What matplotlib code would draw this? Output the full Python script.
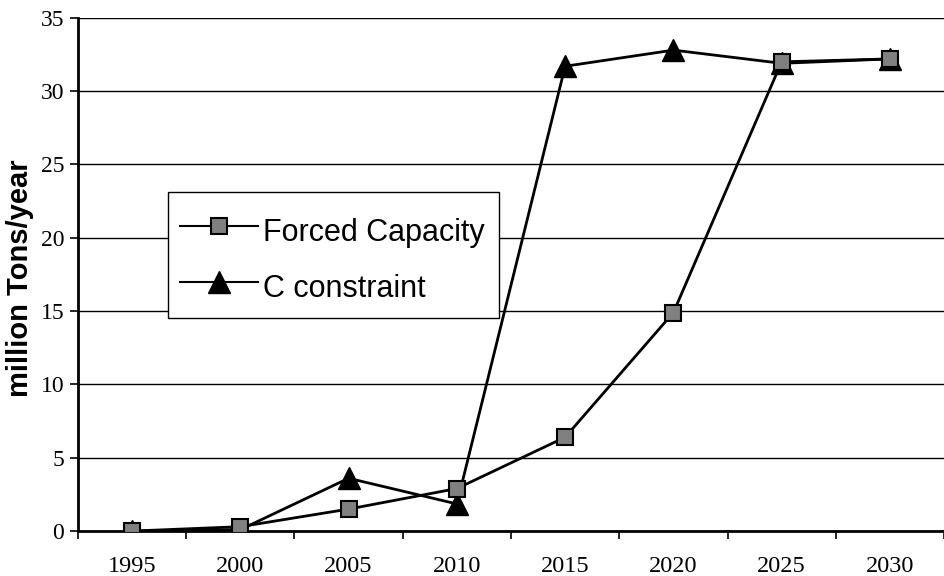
import matplotlib
matplotlib.use("Agg")
import matplotlib.pyplot as plt
from matplotlib.lines import Line2D
from matplotlib.patches import Rectangle

years = ["1995", "2000", "2005", "2010", "2015", "2020", "2025", "2030"]
forced_capacity = [0.0, 0.3, 1.5, 2.9, 6.4, 14.9, 32.0, 32.2]
c_constraint = [0.0, 0.1, 3.6, 1.85, 31.7, 32.8, 31.9, 32.2]
y_ticks = [0, 5, 10, 15, 20, 25, 30, 35]

fig = plt.figure(figsize=(9.45, 5.76), dpi=100)
ax = fig.add_axes([0.0825, 0.078, 0.9165, 0.891])

x = list(range(len(years)))
ax.plot(x, c_constraint, color="black", lw=2, marker="^", ms=16,
        mfc="black", mec="black", zorder=3, label="C constraint")
ax.plot(x, forced_capacity, color="black", lw=2, marker="s", ms=12,
        mfc="#808080", mec="black", mew=1.5, zorder=4, label="Forced Capacity")

ax.set_xlim(-0.5, len(years) - 0.5)
ax.set_ylim(0, 35)
ax.set_yticks(y_ticks)
ax.set_xticks(x)
ax.set_xticklabels(years)
ax.set_xticks([i - 0.5 for i in range(len(years) + 1)], minor=True)
ax.tick_params(axis="x", which="major", length=0, pad=18)
ax.tick_params(axis="x", which="minor", length=6, width=1.2, direction="out")
ax.tick_params(axis="y", length=6, width=1.2, direction="out", pad=4)
for lab in ax.get_xticklabels():
    lab.set_fontfamily("Liberation Serif")
    lab.set_fontsize(17.5)
for lab in ax.get_yticklabels():
    lab.set_fontfamily("Liberation Serif")
    lab.set_fontsize(17)

ax.grid(axis="y", color="black", lw=1.0)
ax.set_axisbelow(True)
for s in ["top", "right"]:
    ax.spines[s].set_visible(False)
ax.spines["left"].set_linewidth(2)
ax.spines["bottom"].set_linewidth(2)

ax.set_ylabel("million Tons/year", fontfamily="Liberation Sans", fontweight="bold",
              fontsize=21)
ax.yaxis.set_label_coords(-0.0505, 0.493)

# legend frame
frame = Rectangle((0.1038, 0.4152), 0.4867 - 0.1038, 0.6608 - 0.4152,
                  transform=ax.transAxes, facecolor="white", edgecolor="black",
                  lw=1.0, zorder=5)
ax.add_patch(frame)

handles = [Line2D([], [], color="black", lw=1.5, marker="s", ms=12, mfc="#808080",
                  mec="black", mew=1.5),
           Line2D([], [], color="black", lw=1.5, marker="^", ms=16, mfc="black", mec="black")]
leg = ax.legend(handles, ["Forced Capacity", "C constraint"],
                loc="upper left", bbox_to_anchor=(0.104, 0.647), borderaxespad=0,
                prop={"family": ["Liberation Sans Narrow", "Liberation Sans"], "size": 22},
                frameon=False,
                handlelength=2.55, handletextpad=0.15, borderpad=0.4,
                handleheight=1.57, labelspacing=0.57)
leg.set_zorder(6)

fig.savefig("out.png", dpi=100)
